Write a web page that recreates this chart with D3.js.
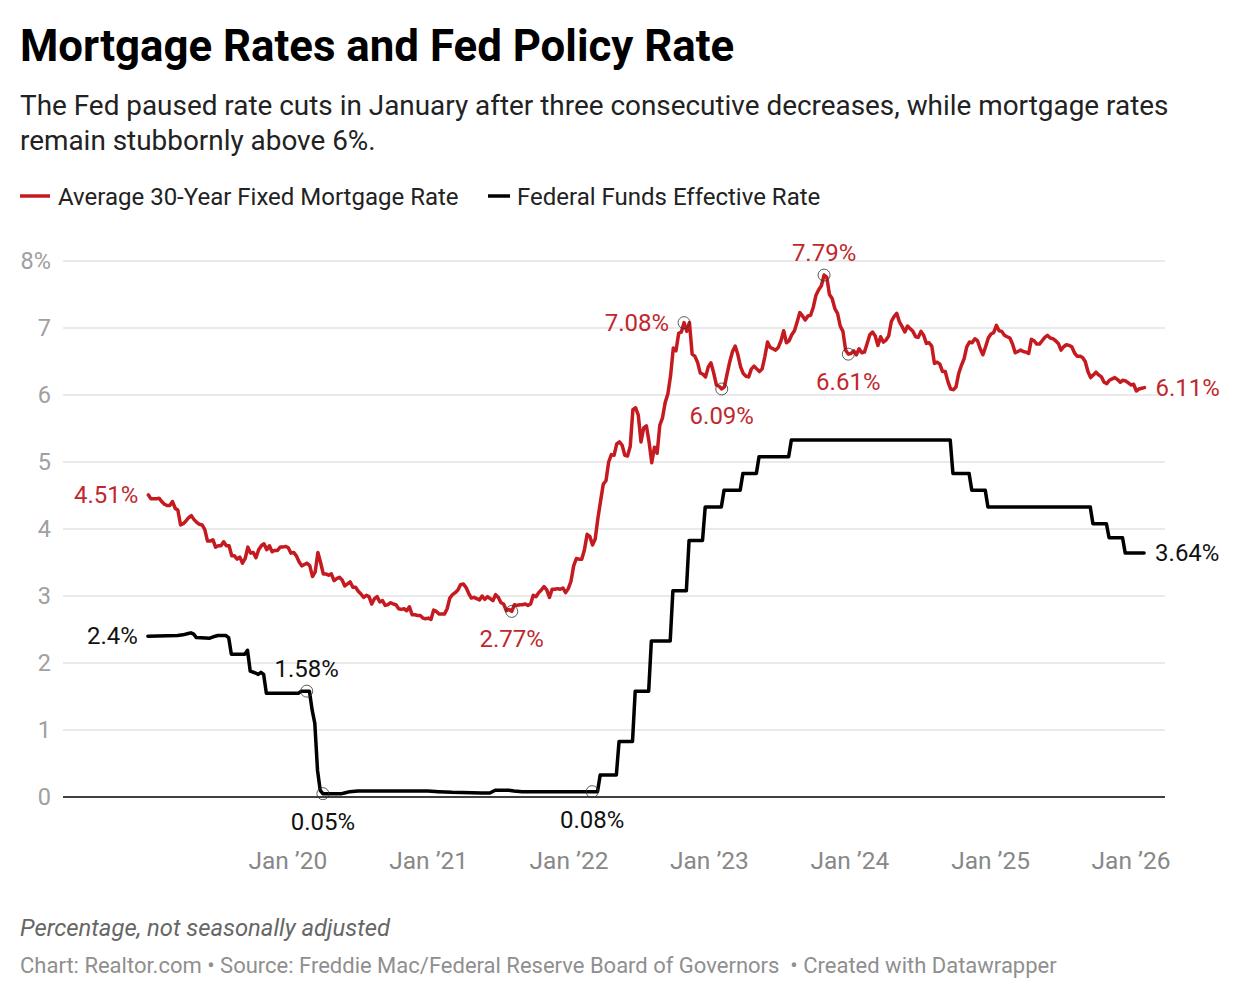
<!DOCTYPE html>
<html>
<head>
<meta charset="utf-8">
<script src="https://cdn.jsdelivr.net/npm/d3@7"></script>
<style>
  body { margin: 0; background: #fff; }
  svg { display: block; font-family: Roboto, "Noto Sans", sans-serif; }
</style>
</head>
<body>
<svg id="chart" width="1240" height="998"></svg>
<script>
// weekly Freddie Mac PMMS readings, every Thursday from Jan 3 2019
var firstWeek = "2019-01-03";
var mortgage2019 = [4.51,4.45,4.45,4.45,4.46, 4.41,4.37,4.35,4.35, 4.41,4.31,4.28,4.06, 4.08,4.12,4.17,4.20,
  4.14,4.10,4.07,4.06,3.99, 3.82,3.82,3.84,3.73, 3.75,3.75,3.81,3.75, 3.75,3.60,3.60,3.55,3.58,
  3.49,3.56,3.73,3.64, 3.65,3.57,3.69,3.75,3.78, 3.69,3.75,3.66,3.68, 3.68,3.73,3.73,3.74];
var mortgage2020 = [3.72,3.64,3.65,3.60,3.51, 3.45,3.47,3.49,3.45, 3.29,3.36,3.65,3.50, 3.33,3.33,3.31,3.33,3.23,
  3.26,3.28,3.24,3.15, 3.18,3.21,3.13,3.13, 3.07,3.03,2.98,3.01,2.99, 2.88,2.96,2.99,2.91,
  2.93,2.86,2.87,2.90, 2.88,2.87,2.81,2.80,2.81, 2.78,2.84,2.72,2.72, 2.71,2.71,2.67,2.66,2.67];
var mortgage2021 = [2.65,2.79,2.77,2.73, 2.73,2.73,2.81,2.97, 3.02,3.05,3.09,3.17, 3.18,3.13,3.04,2.97,2.98,
  2.96,2.94,3.00,2.95, 2.99,2.96,2.93,3.02, 2.98,2.90,2.88,2.78,2.80, 2.77,2.87,2.86,2.87,
  2.87,2.88,2.86,2.88,3.01, 2.99,3.05,3.09,3.14, 3.09,2.98,3.10,3.10, 3.11,3.10,3.12,3.05,3.11];
var mortgage2022 = [3.22,3.45,3.56,3.55, 3.55,3.69,3.92,3.89, 3.76,3.85,4.16,4.42,4.67, 4.72,5.00,5.11,5.10,
  5.27,5.30,5.25,5.10, 5.09,5.23,5.78,5.81,5.70, 5.30,5.51,5.54,5.30, 4.99,5.22,5.13,5.55,
  5.66,5.89,6.02,6.29,6.70, 6.66,6.92,6.94,7.08, 6.95,7.08,6.61,6.58, 6.49,6.33,6.31,6.27,6.42];
var mortgage2023 = [6.48,6.33,6.15,6.13, 6.09,6.12,6.32,6.50, 6.65,6.73,6.60,6.42,6.32, 6.28,6.27,6.39,6.43,
  6.39,6.35,6.39,6.57, 6.79,6.71,6.69,6.67,6.71, 6.81,6.96,6.78,6.81, 6.90,6.96,7.09,7.23,7.18,
  7.12,7.18,7.19,7.31, 7.49,7.57,7.63,7.79, 7.76,7.50,7.44,7.29,7.22, 7.03,6.95,6.67,6.61];
var mortgage2024 = [6.62,6.66,6.60,6.69, 6.63,6.64,6.77,6.90,6.94, 6.88,6.74,6.87,6.79, 6.82,6.88,7.10,7.17,
  7.22,7.09,7.02,6.94,7.03, 6.99,6.95,6.87,6.86, 6.95,6.89,6.77,6.78, 6.73,6.47,6.49,6.46,6.35,
  6.35,6.20,6.09,6.08, 6.12,6.32,6.44,6.54,6.72, 6.79,6.78,6.84,6.81, 6.69,6.60,6.72,6.85];
var mortgage2025 = [6.91,6.93,7.04,6.96,6.95, 6.89,6.87,6.85,6.76, 6.63,6.65,6.67,6.65, 6.64,6.62,6.83,6.81,
  6.76,6.76,6.81,6.86,6.89, 6.85,6.84,6.81,6.77, 6.67,6.72,6.75,6.74,6.72, 6.63,6.58,6.58,6.56,
  6.50,6.35,6.26,6.30, 6.34,6.30,6.27,6.19,6.17, 6.22,6.24,6.26,6.23, 6.19,6.22,6.21,6.18];
var mortgage2026 = [6.15,6.16,6.06,6.09,6.10,6.11];

// federal funds effective rate, weekly readings around each change
var fedFunds = [
  ["2019-01-02",2.40],["2019-03-20",2.41],["2019-04-03",2.42],["2019-04-17",2.44],["2019-04-24",2.45],
  ["2019-05-01",2.43],["2019-05-08",2.38],["2019-06-12",2.37],["2019-06-26",2.40],["2019-07-03",2.41],
  ["2019-07-24",2.41],["2019-07-31",2.38],["2019-08-07",2.13],["2019-09-11",2.13],["2019-09-18",2.19],
  ["2019-09-25",1.88],["2019-10-09",1.85],["2019-10-16",1.83],["2019-10-23",1.86],["2019-10-30",1.83],
  ["2019-11-06",1.55],["2020-01-29",1.55],["2020-02-05",1.58],["2020-02-26",1.58],["2020-03-04",1.30],
  ["2020-03-11",1.10],["2020-03-18",0.40],["2020-03-25",0.10],["2020-04-01",0.05],["2020-05-20",0.05],
  ["2020-05-27",0.06],["2020-06-10",0.08],["2020-07-01",0.09],["2020-12-30",0.09],["2021-01-27",0.08],
  ["2021-03-03",0.07],["2021-05-19",0.06],["2021-06-09",0.06],["2021-06-23",0.10],["2021-07-28",0.10],
  ["2021-08-11",0.09],["2021-09-01",0.08],["2022-03-16",0.08],["2022-03-23",0.33],["2022-05-04",0.33],
  ["2022-05-11",0.83],["2022-06-15",0.83],["2022-06-22",1.58],["2022-07-27",1.58],["2022-08-03",2.33],
  ["2022-09-21",2.33],["2022-09-28",3.08],["2022-11-02",3.08],["2022-11-09",3.83],["2022-12-14",3.83],
  ["2022-12-21",4.33],["2023-02-01",4.33],["2023-02-08",4.58],["2023-03-22",4.58],["2023-03-29",4.83],
  ["2023-05-03",4.83],["2023-05-10",5.08],["2023-07-26",5.08],["2023-08-02",5.33],["2024-09-18",5.33],
  ["2024-09-25",4.83],["2024-11-06",4.83],["2024-11-13",4.58],["2024-12-18",4.58],["2024-12-25",4.33],
  ["2025-09-17",4.33],["2025-09-24",4.08],["2025-10-29",4.08],["2025-11-05",3.87],["2025-12-10",3.87],
  ["2025-12-17",3.64],["2026-02-04",3.64]
];

var seriesNames = ["Average 30-Year Fixed Mortgage Rate", "Federal Funds Effective Rate"];
var yTicks = [0, 1, 2, 3, 4, 5, 6, 7, 8];
var xTickYears = [2020, 2021, 2022, 2023, 2024, 2025, 2026];

// highlighted readings: [date, value, circled]
var mortgageNotes = [
  ["2019-01-03", 4.51, false], ["2021-08-05", 2.77, true], ["2022-10-27", 7.08, true],
  ["2023-02-02", 6.09, true], ["2023-10-26", 7.79, true], ["2023-12-28", 6.61, true],
  ["2026-02-05", 6.11, false]
];
var fedNotes = [
  ["2019-01-02", 2.4, false], ["2020-02-19", 1.58, true], ["2020-04-01", 0.05, true],
  ["2022-03-02", 0.08, true], ["2026-02-04", 3.64, false]
];

var parse = d3.timeParse("%Y-%m-%d");
var start = parse(firstWeek);
var mortgageData = [].concat(mortgage2019, mortgage2020, mortgage2021, mortgage2022,
    mortgage2023, mortgage2024, mortgage2025, mortgage2026)
  .map(function(v, i) { return { date: d3.timeDay.offset(start, 7 * i), value: v }; });
var fedData = fedFunds.map(function(d) { return { date: parse(d[0]), value: d[1] }; });

var red = "#c41a20";
var redText = "#c0282d";
var svg = d3.select("#chart");

var x = d3.scaleTime()
  .domain([new Date(2019, 0, 1), new Date(2026, 0, 1)])
  .range([147.5, 1131]);
var y = d3.scaleLinear().domain([0, 8]).range([797, 261]);
var gridLeft = 63, gridRight = 1165;

// header
svg.append("text").attr("x", 20).attr("y", 61)
  .style("font-size", "43.8px").style("font-weight", 700).attr("fill", "#000")
  .text("Mortgage Rates and Fed Policy Rate");
svg.append("text").attr("x", 20).attr("y", 115)
  .style("font-size", "27.9px").attr("fill", "#222")
  .text("The Fed paused rate cuts in January after three consecutive decreases, while mortgage rates");
svg.append("text").attr("x", 20).attr("y", 150)
  .style("font-size", "27.9px").attr("fill", "#222")
  .text("remain stubbornly above 6%.");

// legend
var legend = svg.append("g");
[[20, 50, 58, red, seriesNames[0]], [488, 510, 517, "#000", seriesNames[1]]].forEach(function(l) {
  legend.append("line").attr("x1", l[0]).attr("x2", l[1]).attr("y1", 196).attr("y2", 196)
    .attr("stroke", l[3]).attr("stroke-width", 3.5);
  legend.append("text").attr("x", l[2]).attr("y", 204.5)
    .style("font-size", "24px").attr("fill", "#222").text(l[4]);
});

// y grid + labels
var yAxis = svg.append("g");
yAxis.selectAll("line").data(yTicks).join("line")
  .attr("x1", gridLeft).attr("x2", gridRight)
  .attr("y1", function(d) { return y(d); }).attr("y2", function(d) { return y(d); })
  .attr("stroke", function(d) { return d === 0 ? "#000" : "#e3e3e3"; })
  .attr("stroke-width", function(d) { return d === 0 ? 1.6 : 1.5; });
yAxis.selectAll("text").data(yTicks).join("text")
  .attr("x", 51).attr("y", function(d) { return y(d) + 8; })
  .attr("text-anchor", "end").style("font-size", "23.5px").attr("fill", "#a0a0a0")
  .text(function(d) { return d === 8 ? "8%" : d; });

// x labels
var fmt = d3.timeFormat("Jan \u2019%y");
svg.append("g").selectAll("text").data(xTickYears).join("text")
  .attr("x", function(d) { return x(new Date(d, 0, 1)); })
  .attr("y", 868.5).attr("text-anchor", "middle")
  .style("font-size", "24.5px").attr("fill", "#888")
  .text(function(d) { return fmt(new Date(d, 0, 1)); });

// lines
var line = d3.line()
  .x(function(d) { return x(d.date); })
  .y(function(d) { return y(d.value); });
svg.append("path").datum(fedData).attr("d", line)
  .attr("fill", "none").attr("stroke", "#000").attr("stroke-width", 3.5)
  .attr("stroke-linejoin", "round").attr("stroke-linecap", "round");
svg.append("path").datum(mortgageData).attr("d", line)
  .attr("fill", "none").attr("stroke", red).attr("stroke-width", 3.5)
  .attr("stroke-linejoin", "round").attr("stroke-linecap", "round");

// annotation placement: [dx, dy, anchor]
var place = {
  "4.51": [-10, 8, "end"], "2.77": [0, 35.5, "middle"], "7.08": [-15, 8, "end"],
  "6.09": [0, 35.5, "middle"], "7.79": [0, -14.5, "middle"], "6.61": [0, 35.5, "middle"],
  "6.11": [11, 8, "start"], "2.4": [-10, 8, "end"], "1.58": [0, -14.5, "middle"],
  "0.05": [0, 36, "middle"], "0.08": [0, 36, "middle"], "3.64": [11, 8, "start"]
};
function notes(list, color) {
  var g = svg.append("g");
  list.forEach(function(n) {
    var px = x(parse(n[0])), py = y(n[1]);
    var p = place[String(n[1])];
    if (n[2]) {
      g.append("circle").attr("cx", px).attr("cy", py).attr("r", 6)
        .attr("fill", "none").attr("stroke", "#333").attr("stroke-opacity", 0.8).attr("stroke-width", 1);
    }
    g.append("text").attr("x", px + p[0]).attr("y", py + p[1])
      .attr("text-anchor", p[2]).style("font-size", "24px").attr("fill", color)
      .text(n[1] + "%");
  });
}
notes(mortgageNotes, redText);
notes(fedNotes, "#111");

// footer
svg.append("text").attr("x", 20).attr("y", 936)
  .style("font-size", "23.8px").style("font-style", "italic").attr("fill", "#666")
  .text("Percentage, not seasonally adjusted");
svg.append("text").attr("x", 20).attr("y", 972.5)
  .style("font-size", "22px").attr("fill", "#8f8f8f")
  .attr("xml:space", "preserve")
  .text("Chart: Realtor.com \u2022 Source: Freddie Mac/Federal Reserve Board of Governors  \u2022 Created with Datawrapper");
</script>
</body>
</html>
